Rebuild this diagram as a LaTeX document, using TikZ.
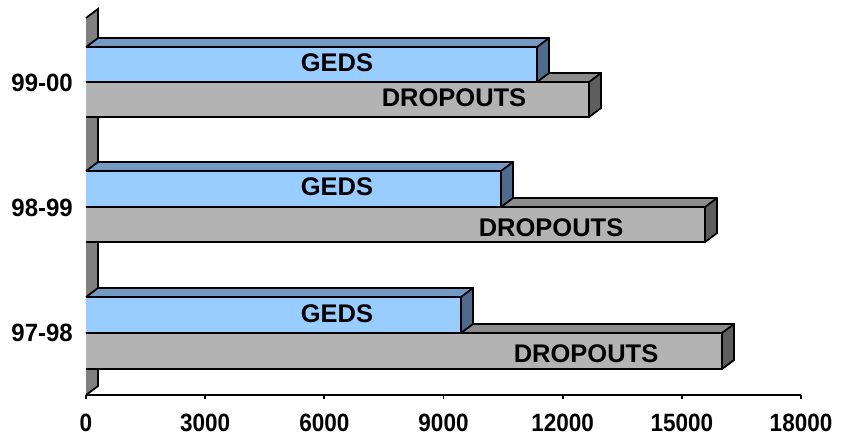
\documentclass[tikz,border=0pt]{standalone}
\usepackage{fontspec}
\setmainfont{Liberation Sans}
\usetikzlibrary{calc}
\begin{document}
\begin{tikzpicture}[x=1pt,y=-1pt,
  edge/.style={draw=black,line width=1.8pt,line join=miter},
  barlabel/.style={font=\fontsize{25.5}{30}\selectfont\bfseries,inner sep=0pt},
  catlabel/.style={font=\fontsize{25}{28}\selectfont\bfseries,inner sep=0pt,anchor=east,xscale=0.96},
  ticklabel/.style={font=\fontsize{25}{27}\selectfont\bfseries,inner sep=0pt,xscale=0.9}]
\definecolor{gedsfront}{HTML}{99CCFF}
\definecolor{gedstop}{HTML}{7399C4}
\definecolor{gedsside}{HTML}{4F6B8C}
\definecolor{dropfront}{HTML}{B3B3B3}
\definecolor{droptop}{HTML}{8C8C8C}
\definecolor{dropside}{HTML}{5E5E5E}
\definecolor{wallgray}{HTML}{808080}
\useasboundingbox (0,0) rectangle (841,436);
% depth offset of the 3-D view
\def\dx{12}\def\dy{-9}
% \drawbar{left}{right}{top}{bottom}{front}{top face}{side face}
\newcommand\drawbar[7]{%
  \fill[#6] (#1,#3) -- ++(\dx,\dy) -- ($(#2,#3)+(\dx,\dy)$) -- (#2,#3) -- cycle;
  \fill[#7] (#2,#3) -- ++(\dx,\dy) -- ++(0,#4-#3) -- (#2,#4) -- cycle;
  \fill[#5] (#1,#3) rectangle (#2,#4);
  \draw[edge] (#1,#3) -- ++(\dx,\dy) -- ($(#2,#3)+(\dx,\dy)$) -- ++(0,#4-#3) -- (#2,#4) -- (#1,#4);
  \draw[edge] (#1,#3) -- (#2,#3) -- ($(#2,#3)+(\dx,\dy)$);
  \draw[edge] (#2,#3) -- (#2,#4);
}
% left wall
\fill[wallgray] (86,18) -- (98,9) -- (98,386) -- (86,395) -- cycle;
\draw[edge] (86,18) -- (98,9) -- (98,386) -- (86,395);
% axis
\draw[edge] (86,395) -- (801,395);
\foreach \k/\lab in {0/0,1/3000,2/6000,3/9000,4/12000,5/15000,6/18000}{
  \draw[edge] (86+119.17*\k,395) -- ++(0,4);
  \node[ticklabel] (tick\k) at (86+119.17*\k,423) {\lab};
}
% 99-00
\drawbar{86}{589}{82}{117}{dropfront}{droptop}{dropside}
\drawbar{86}{537}{47}{82}{gedsfront}{gedstop}{gedsside}
% 98-99
\drawbar{86}{705}{207}{242}{dropfront}{droptop}{dropside}
\drawbar{86}{501}{171}{207}{gedsfront}{gedstop}{gedsside}
% 97-98
\drawbar{86}{722}{333}{369}{dropfront}{droptop}{dropside}
\drawbar{86}{461}{297}{333}{gedsfront}{gedstop}{gedsside}
% labels
\node[barlabel] (g1) at (337,63) {GEDS};
\node[barlabel] (d1) at (454,98) {DROPOUTS};
\node[barlabel] (g2) at (337,187) {GEDS};
\node[barlabel] (d2) at (551,228) {DROPOUTS};
\node[barlabel] (g3) at (337,314) {GEDS};
\node[barlabel] (d3) at (586,354) {DROPOUTS};
\node[catlabel] (c1) at (73,83) {99-00};
\node[catlabel] (c2) at (73,208) {98-99};
\node[catlabel] (c3) at (73,333) {97-98};
\end{tikzpicture}
\end{document}
